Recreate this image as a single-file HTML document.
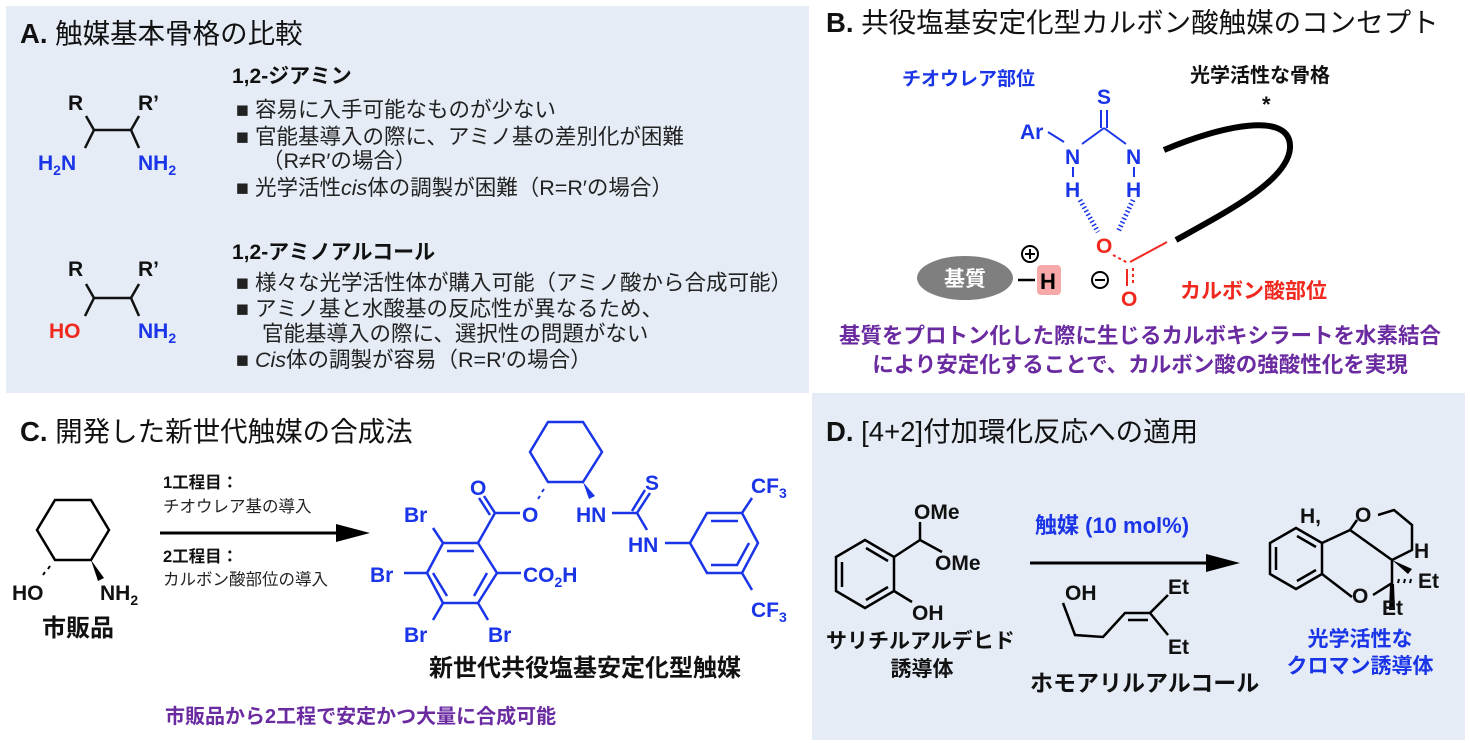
<!DOCTYPE html>
<html><head><meta charset="utf-8"><style>
html,body{margin:0;padding:0;background:#fff;}
svg{display:block;font-family:"Liberation Sans","Noto Sans CJK JP",sans-serif;}
.t{font-size:21.5px;fill:#222;}
.h{font-size:27.5px;fill:#111;}
.b{font-weight:bold;}
.bl{fill:#1a35e8;}
.rd{fill:#f0281e;}
.pu{fill:#6a2aa0;font-weight:bold;}
</style></head><body>
<svg width="1470" height="743" viewBox="0 0 1470 743" xmlns="http://www.w3.org/2000/svg">
<rect x="6" y="6" width="803" height="387" fill="#e5ecf6"/>
<rect x="812" y="393" width="653" height="347" fill="#e5ecf6"/>

<!-- Panel A -->
<text x="20" y="43" class="h" font-size="28.5"><tspan font-weight="bold">A.</tspan> 触媒基本骨格の比較</text>
<g stroke="#111" stroke-width="2.5" fill="none">
<path d="M86,116 L94,130 L131,130 L139,116 M94,130 L85,148 M131,130 L139,148"/>
<path d="M86,284 L94,298 L131,298 L139,284 M94,298 L85,316 M131,298 L139,316"/>
</g>
<g font-size="21" font-weight="bold">
<text x="68" y="110" fill="#111">R</text><text x="138" y="110" fill="#111">R’</text>
<text x="38" y="170" class="bl">H<tspan font-size="14" dy="5">2</tspan><tspan dy="-5">N</tspan></text>
<text x="138" y="170" class="bl">NH<tspan font-size="14" dy="5">2</tspan></text>
<text x="68" y="276" fill="#111">R</text><text x="138" y="276" fill="#111">R’</text>
<text x="49" y="338" class="rd">HO</text>
<text x="138" y="338" class="bl">NH<tspan font-size="14" dy="5">2</tspan></text>
</g>
<text x="232" y="83" font-size="21" class="b" fill="#111">1,2-ジアミン</text>
<text x="236" y="117" class="t">■ 容易に入手可能なものが少ない</text>
<text x="236" y="144" class="t">■ 官能基導入の際に、アミノ基の差別化が困難</text>
<text x="262" y="168" class="t">（R≠R′の場合）</text>
<text x="236" y="195" class="t">■ 光学活性<tspan font-style="italic">cis</tspan>体の調製が困難（R=R′の場合）</text>
<text x="232" y="259" font-size="21" class="b" fill="#111">1,2-アミノアルコール</text>
<text x="236" y="290" class="t">■ 様々な光学活性体が購入可能（アミノ酸から合成可能）</text>
<text x="236" y="316" class="t">■ アミノ基と水酸基の反応性が異なるため、</text>
<text x="262" y="341" class="t">官能基導入の際に、選択性の問題がない</text>
<text x="236" y="367" class="t">■ <tspan font-style="italic">Cis</tspan>体の調製が容易（R=R′の場合）</text>

<!-- Panel B -->
<text x="826" y="32" class="h" font-size="28"><tspan font-weight="bold">B.</tspan> 共役塩基安定化型カルボン酸触媒のコンセプト</text>
<text x="902" y="85" font-size="19" class="b bl">チオウレア部位</text>
<text x="1190" y="82" font-size="20" class="b" fill="#111">光学活性な骨格</text>
<text x="1262" y="112" font-size="22" class="b" fill="#111">*</text>
<g font-size="21" font-weight="bold" class="bl">
<text x="1097" y="104">S</text>
<text x="1020" y="139">Ar</text>
<text x="1065" y="164">N</text><text x="1126" y="164">N</text>
<text x="1065" y="197">H</text><text x="1126" y="197">H</text>
</g>
<g stroke="#1a35e8" stroke-width="2" fill="none">
<path d="M1101,110 L1101,128 M1107,110 L1107,128 M1104,128 L1082,144 M1104,128 L1126,144 M1048,132 L1064,142 M1073,167 L1073,177 M1134,167 L1134,177"/>
<path d="M1080,200 L1098,232 M1133,200 L1118,232" stroke-width="5" stroke-dasharray="1.5 2.5"/>
</g>
<path d="M1164,150 C1220,126 1292,110 1290,148 C1288,180 1230,210 1176,240" stroke="#000" stroke-width="6" fill="none"/>
<text x="1096" y="253" font-size="21" class="b rd">O</text>
<text x="1121" y="306" font-size="21" class="b rd">O</text>
<g stroke="#f0281e" stroke-width="2" fill="none">
<path d="M1130,262 L1167,242 M1127,269 L1127,286"/>
<path d="M1113,255 L1128,263 M1133,268 L1133,286" stroke-dasharray="3 3"/>
</g>
<ellipse cx="965" cy="278" rx="48" ry="22" fill="#7f7f7f"/>
<text x="965" y="286" font-size="21" font-weight="bold" fill="#fff" text-anchor="middle">基質</text>
<line x1="1018" y1="280" x2="1035" y2="280" stroke="#000" stroke-width="2.5"/>
<rect x="1037" y="265" width="24" height="30" fill="#f7a8a8" rx="4"/>
<text x="1040" y="289" font-size="22" font-weight="bold" fill="#000">H</text>
<circle cx="1030" cy="254" r="8" fill="none" stroke="#000" stroke-width="2"/>
<path d="M1025,254 h10 M1030,249 v10" stroke="#000" stroke-width="2"/>
<circle cx="1100" cy="280" r="8" fill="none" stroke="#000" stroke-width="2"/>
<path d="M1095,280 h10" stroke="#000" stroke-width="2"/>
<text x="1180" y="298" font-size="21" class="b rd">カルボン酸部位</text>
<text x="1140" y="343" font-size="21.5" class="pu" text-anchor="middle">基質をプロトン化した際に生じるカルボキシラートを水素結合</text>
<text x="1140" y="372" font-size="21.5" class="pu" text-anchor="middle">により安定化することで、カルボン酸の強酸性化を実現</text>

<!-- Panel C -->
<text x="20" y="441" class="h"><tspan font-weight="bold">C.</tspan> 開発した新世代触媒の合成法</text>
<g stroke="#000" stroke-width="2.5" fill="none">
<path d="M55,500 L91,500 L109,530 L91,560 L55,560 L37,530 Z"/>
<path d="M50,566 L48,569 M45,572 L43,575" stroke-width="2"/>
</g>
<path d="M91,560 L104,578 L98,581 Z" fill="#000"/>
<g font-size="21" font-weight="bold" fill="#111">
<text x="12" y="600">HO</text>
<text x="100" y="600">NH<tspan font-size="14" dy="5">2</tspan></text>
<text x="42" y="636" font-size="24">市販品</text>
</g>
<line x1="160" y1="533" x2="340" y2="533" stroke="#000" stroke-width="3"/>
<path d="M336,524 L370,533 L336,542 Z" fill="#000"/>
<text x="163" y="488" font-size="16.5" class="b" fill="#111">1工程目：</text>
<text x="163" y="512" font-size="16.5" fill="#222">チオウレア基の導入</text>
<text x="163" y="562" font-size="16.5" class="b" fill="#111">2工程目：</text>
<text x="163" y="585" font-size="16.5" fill="#222">カルボン酸部位の導入</text>

<g stroke="#1a35e8" stroke-width="2.5" fill="none">
<path d="M443,543 L478,543 L497,573 L478,603 L443,603 L427,573 Z"/>
<path d="M447,551 L474,551 M487,573 L474,596 M433,573 L447,596"/>
<path d="M478,543 L495,513 L520,513 M495,513 L484,496 M490,515 L479,498"/>
<path d="M443,543 L433,528 M427,573 L404,573 M443,603 L433,620 M478,603 L488,620 M497,573 L521,573"/>
<path d="M548,422 L583,422 L602,452 L583,482 L548,482 L530,452 Z"/>
<path d="M637,513 L612,513 M637,513 L650,493 M632,511 L645,490 M637,513 L647,530 M665,543 L690,543"/>
<path d="M707,513 L742,513 L758,543 L742,573 L707,573 L690,543 Z"/>
<path d="M711,521 L738,521 M749,543 L737,565 M711,565 L738,565"/>
<path d="M742,513 L752,498 M742,573 L752,590"/>
<path d="M544,489 L542,492 M540,496 L538,499" stroke-width="2"/>
</g>
<path d="M583,482 L595,496 L589,499 Z" fill="#1a35e8"/>
<g font-size="21" font-weight="bold" class="bl">
<text x="470" y="495">O</text>
<text x="522" y="522">O</text>
<text x="404" y="522">Br</text>
<text x="370" y="582">Br</text>
<text x="404" y="642">Br</text>
<text x="488" y="642">Br</text>
<text x="523" y="582">CO<tspan font-size="14" dy="5">2</tspan><tspan dy="-5">H</tspan></text>
<text x="576" y="522">HN</text>
<text x="645" y="490">S</text>
<text x="628" y="552">HN</text>
<text x="751" y="493">CF<tspan font-size="14" dy="5">3</tspan></text>
<text x="751" y="617">CF<tspan font-size="14" dy="5">3</tspan></text>
</g>
<text x="585" y="676" font-size="24" class="b" fill="#111" text-anchor="middle">新世代共役塩基安定化型触媒</text>
<text x="165" y="723" font-size="20" class="pu">市販品から2工程で安定かつ大量に合成可能</text>

<!-- Panel D -->
<text x="826" y="441" class="h"><tspan font-weight="bold">D.</tspan> [4+2]付加環化反応への適用</text>
<g stroke="#000" stroke-width="2.5" fill="none">
<path d="M865,540 L894,557 L894,591 L865,608 L836,591 L836,557 Z"/>
<path d="M866,548 L888,561 M842,562 L842,587 M866,600 L888,587"/>
<path d="M894,557 L920,540 L920,522 M920,540 L942,552 M894,591 L912,602"/>
<path d="M1063,603 L1075,635 L1103,637 L1125,613 L1150,613 L1168,595 M1150,613 L1168,635 M1128,620 L1148,620"/>
<line x1="1030" y1="563" x2="1210" y2="563" stroke-width="3"/>
<path d="M1296,528 L1322,543 L1322,574 L1296,589 L1270,574 L1270,543 Z"/>
<path d="M1297,536 L1316,547 M1276,547 L1276,570 M1297,581 L1316,570"/>
<path d="M1322,543 L1350,530 L1357,520 M1378,515 L1394,510 L1412,525 L1412,550 L1392,560 L1350,530 M1392,560 L1392,583 L1373,595 M1352,597 L1322,574"/>
</g>
<path d="M1206,554 L1240,563 L1206,572 Z" fill="#000"/>
<path d="M1392,560 L1408,574 L1412,569 Z" fill="#000"/>
<path d="M1390,584 L1394,584 L1395,610 L1389,610 Z" fill="#000"/>
<path d="M1398,583 l1,-4 M1404,583 l1,-4 M1410,583 l1,-4" stroke="#000" stroke-width="2"/>
<g font-size="21" font-weight="bold" fill="#111">
<text x="914" y="519">OMe</text>
<text x="935" y="570">OMe</text>
<text x="912" y="620">OH</text>
<text x="1065" y="600">OH</text>
<text x="1168" y="594">Et</text>
<text x="1168" y="654">Et</text>
<text x="1355" y="522">O</text>
<text x="1300" y="523">H,</text>
<text x="1414" y="558">H</text>
<text x="1418" y="588">Et</text>
<text x="1352" y="603">O</text>
<text x="1382" y="615">Et</text>
<text x="826" y="648">サリチルアルデヒド</text>
<text x="922" y="676" text-anchor="middle">誘導体</text>
<text x="1030" y="691" font-size="23">ホモアリルアルコール</text>
</g>
<text x="1035" y="533" font-size="22" class="b bl">触媒 (10 mol%)</text>
<text x="1360" y="646" font-size="21" class="b bl" text-anchor="middle">光学活性な</text>
<text x="1360" y="673" font-size="21" class="b bl" text-anchor="middle">クロマン誘導体</text>
</svg>
</body></html>
